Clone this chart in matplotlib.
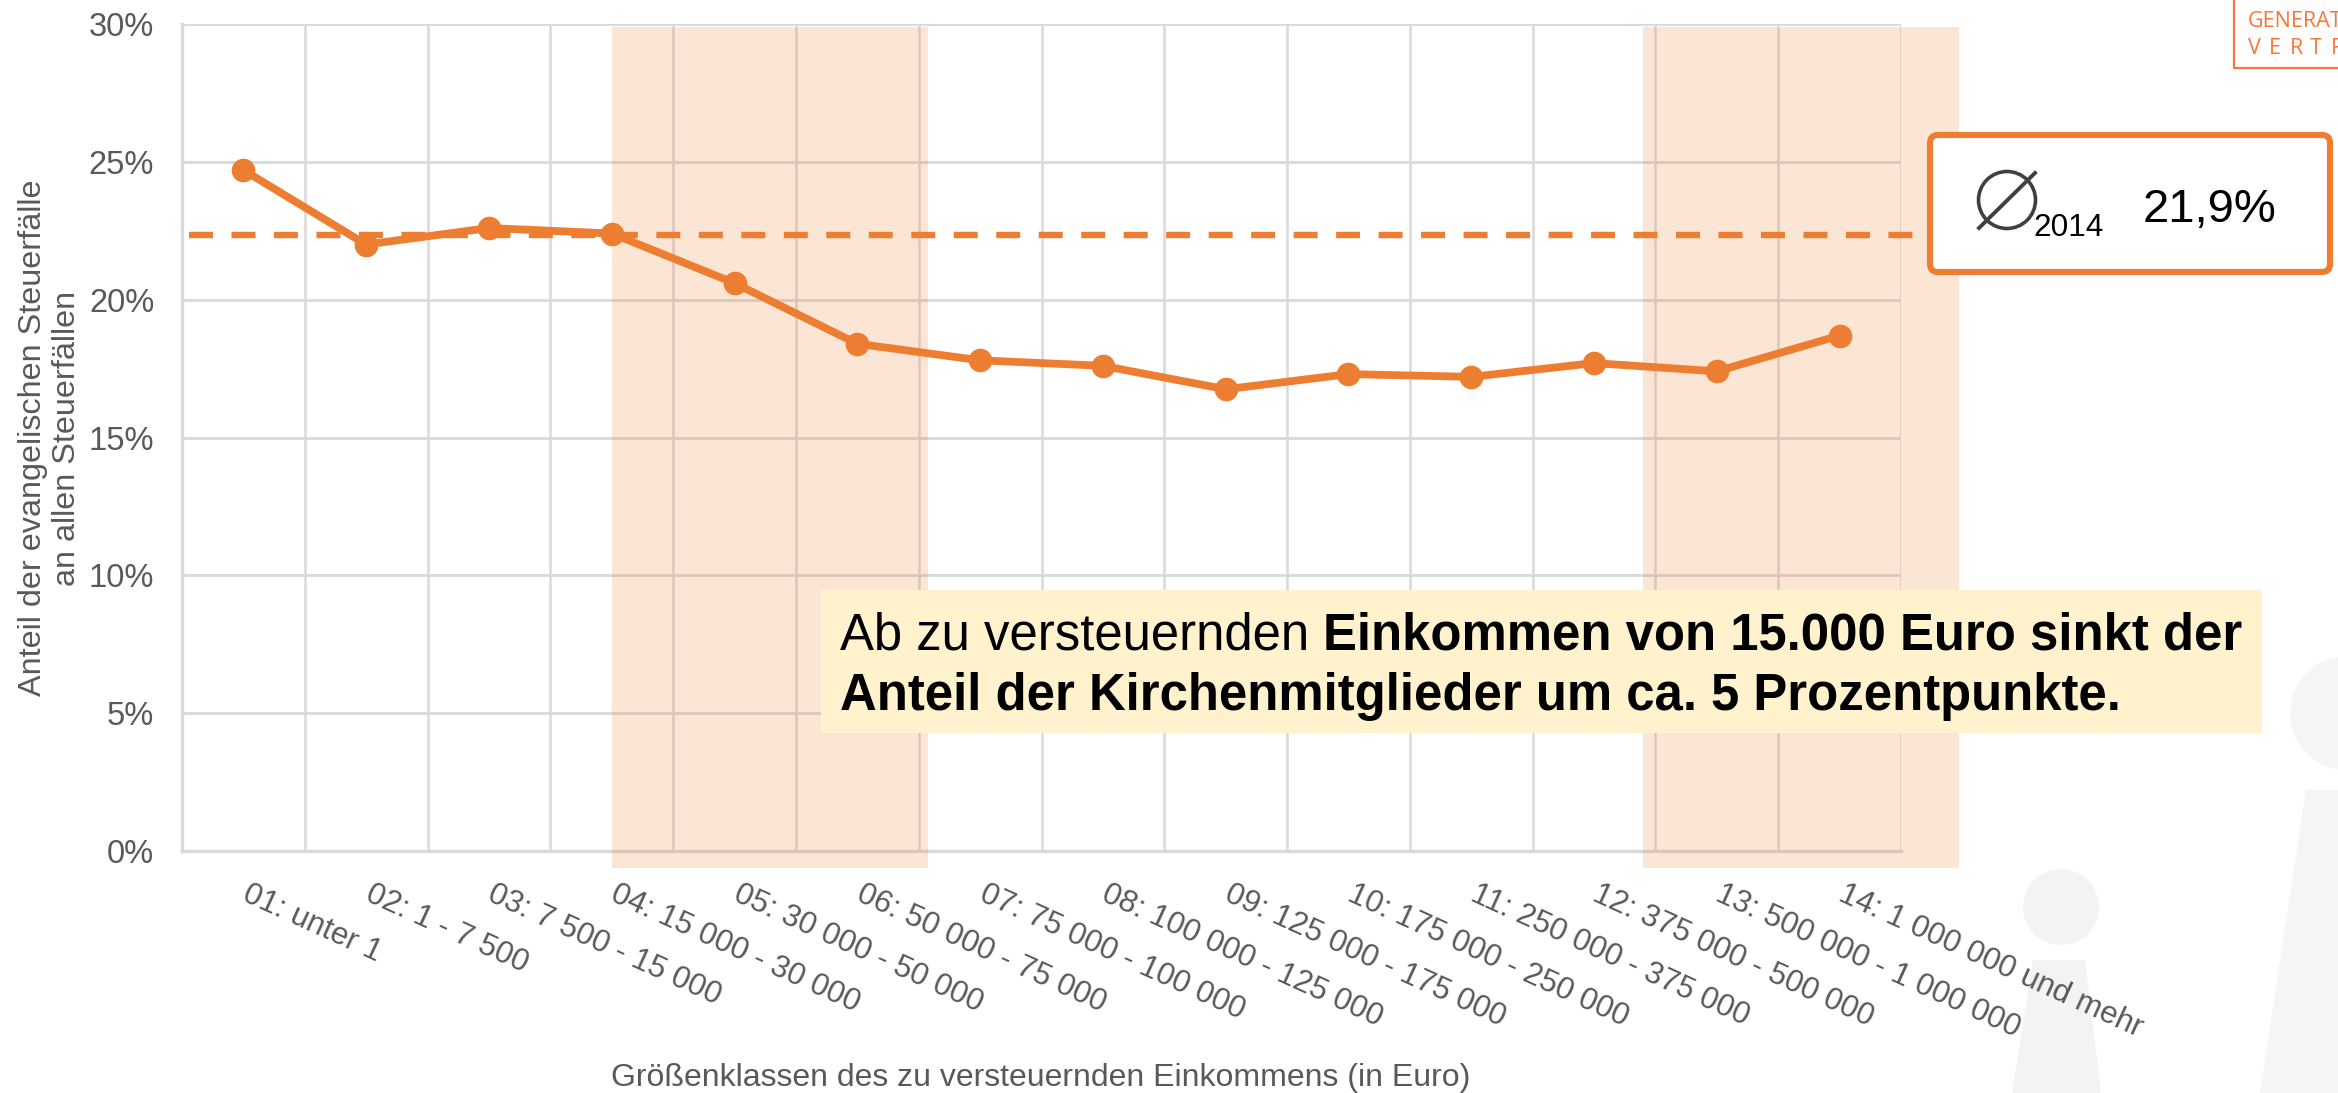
from matplotlib import pyplot as plt
from matplotlib.patches import Circle, FancyBboxPatch, Polygon, Rectangle
from matplotlib.transforms import ScaledTranslation

categories = ["01: unter 1", "02: 1 - 7 500", "03: 7 500 - 15 000", "04: 15 000 - 30 000",
              "05: 30 000 - 50 000", "06: 50 000 - 75 000", "07: 75 000 - 100 000",
              "08: 100 000 - 125 000", "09: 125 000 - 175 000", "10: 175 000 - 250 000",
              "11: 250 000 - 375 000", "12: 375 000 - 500 000", "13: 500 000 - 1 000 000",
              "14: 1 000 000 und mehr"]
anteil = [24.7, 22.0, 22.6, 22.4, 20.6, 18.4, 17.8, 17.6, 16.75, 17.3, 17.2, 17.7, 17.4, 18.7]
mean_line = 22.35
y_ticks = [0, 5, 10, 15, 20, 25, 30]

ORANGE = "#ED7D31"
GREY = "#595959"
W, H = 2338, 1093

plt.rcParams["font.family"] = ["Liberation Sans", "DejaVu Sans"]
fig = plt.figure(figsize=(W / 100, H / 100), dpi=100)

# pixel overlay for everything that sits outside the chart scales
bg = fig.add_axes([0, 0, 1, 1], zorder=0)
bg.set_xlim(0, W)
bg.set_ylim(H, 0)
bg.axis("off")

# watermark figures
bg.add_patch(Circle((2061, 907), 38, color="#F3F3F3", lw=0))
bg.add_patch(Polygon([(2033, 960), (2085, 960), (2101, H), (2012, H)], color="#F3F3F3", lw=0))
bg.add_patch(Circle((2347, 713), 57, color="#F5F5F5", lw=0))
bg.add_patch(Polygon([(2306, 790), (W, 790), (W, H), (2260, H)], color="#F5F5F5", lw=0))

# logo cut off by the crop
bg.plot([2234, 2234, W], [0, 68, 68], color="#F47B3C", lw=1.6)
bg.text(2248, 27, "GENERAT", family="Open Sans", fontsize=15.5, color="#FA7538", va="baseline")
for i, c in enumerate("VERTR"):
    bg.text(2248 + 20.7 * i, 54, c, family="Open Sans", fontsize=15.5, color="#FA7538", va="baseline")

ax = fig.add_axes([182 / W, 1 - 851 / H, (1901 - 182) / W, (851 - 24) / H], zorder=1)
ax.patch.set_alpha(0)
ax.set_xlim(-0.5, 13.5)
ax.set_ylim(0, 30)
x = list(range(len(categories)))

ax.set_xticks(x)
ax.set_xticks([i - 0.5 for i in range(len(categories) + 1)], minor=True)
ax.set_xticklabels(categories, rotation=-24.5, ha="left", va="top", rotation_mode="anchor",
                   fontsize=22.4, color=GREY)
ax.set_yticks(y_ticks)
ax.set_yticklabels([str(v) + "%" for v in y_ticks], fontsize=23.5, color=GREY)
ax.tick_params(axis="x", which="both", length=0, pad=20)
ax.tick_params(axis="y", length=0, pad=20)
shift = ScaledTranslation(7 / 100, 0, fig.dpi_scale_trans)
for lab in ax.get_xticklabels():
    lab.set_transform(lab.get_transform() + shift)
ax.grid(True, axis="y", color="#D9D9D9", lw=2.0)
ax.grid(True, axis="x", which="minor", color="#D9D9D9", lw=1.8)
ax.grid(False, axis="x", which="major")
ax.set_axisbelow(True)
for s in ["top", "right"]:
    ax.spines[s].set_visible(False)
for s in ["left", "bottom"]:
    ax.spines[s].set_color("#D9D9D9")
    ax.spines[s].set_linewidth(2.4)

ax.plot(x, anteil, color=ORANGE, lw=5.6, marker="o", ms=16, zorder=5, clip_on=False)
ax.plot([-0.44, 13.62], [mean_line, mean_line], color=ORANGE, lw=4.6, dashes=(3.75, 2.9),
        dash_capstyle="butt", zorder=4, clip_on=False)

ax.set_xlabel("Größenklassen des zu versteuernden Einkommens (in Euro)", fontsize=23, color=GREY)
ax.xaxis.set_label_coords((1041 - 182) / (1901 - 182), -(1078 - 851) / (851 - 24), ax.transAxes)
ax.xaxis.label.set_va("center")
ax.set_ylabel("Anteil der evangelischen Steuerfälle\nan allen Steuerfällen", fontsize=23.3,
              color=GREY, linespacing=1.2)
ax.yaxis.set_label_coords((50 - 182) / (1901 - 182), (851 - 438) / (851 - 24), ax.transAxes)
ax.yaxis.label.set_va("center")

# top overlay: bands, callouts
fg = fig.add_axes([0, 0, 1, 1], zorder=2)
fg.set_xlim(0, W)
fg.set_ylim(H, 0)
fg.axis("off")
fg.patch.set_alpha(0)

for x0, x1 in [(612, 928), (1643, 1959)]:
    fg.add_patch(Rectangle((x0, 27), x1 - x0, 841, facecolor=ORANGE, alpha=0.2, lw=0, zorder=1))

fg.add_patch(Rectangle((821, 590), 1441, 143, facecolor="#FFF2CC", lw=0, zorder=3))
t1 = fg.text(840, 649, "Ab zu versteuernden ", fontsize=36.6, color="black", va="baseline", zorder=4)
fig.canvas.draw()
# bold part starts where the plain part ends
x_bold = fg.transData.inverted().transform((t1.get_window_extent().x1, 0))[0]
fg.text(x_bold, 649, "Einkommen von 15.000 Euro sinkt der", fontsize=36.6, weight="bold",
        color="black", va="baseline", zorder=4)
fg.text(840, 710, "Anteil der Kirchenmitglieder um ca. 5 Prozentpunkte.", fontsize=36.6, weight="bold",
        color="black", va="baseline", zorder=4)

fg.add_patch(FancyBboxPatch((1930, 135), 400, 137, boxstyle="round,pad=0,rounding_size=8",
                            facecolor="white", edgecolor=ORANGE, lw=4.4, zorder=3))
fg.add_patch(Circle((2007, 200), 28.5, facecolor="none", edgecolor="#404040", lw=2.6, zorder=4))
fg.plot([1979, 2035], [228, 173], color="#404040", lw=2.8, zorder=4)
fg.text(2033, 236, "2014", fontsize=22.7, color="black", va="baseline", zorder=4)
fg.text(2143, 222, "21,9%", fontsize=34, color="black", va="baseline", zorder=4)

fig.savefig("out.png", dpi=100)
